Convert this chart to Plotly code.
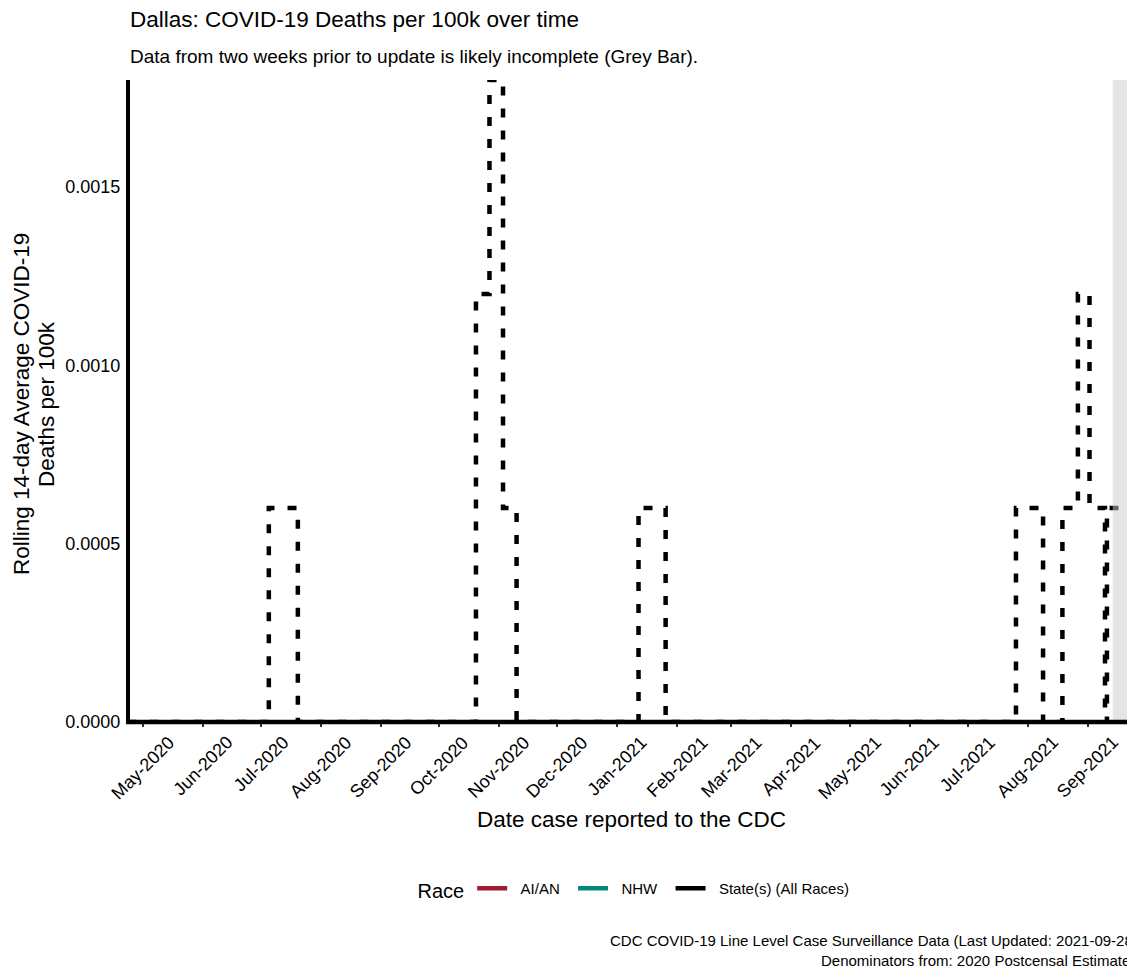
import plotly.graph_objects as go

# ---- data ----
state_dates = ["2020-04-23", "2020-07-05", "2020-07-20", "2020-10-20", "2020-10-27",
               "2020-11-03", "2020-11-10", "2021-01-12", "2021-01-26", "2021-07-26",
               "2021-08-09", "2021-08-19", "2021-08-27", "2021-09-02", "2021-09-10",
               "2021-09-11", "2021-09-24", "2021-09-28"]
state_values = [0, 0.0006, 0, 0.0012, 0.0018,
                0.0006, 0, 0.0006, 0, 0.0006,
                0, 0.0006, 0.0012, 0.0006, 0,
                0.0006, 0, 0]

race_dates = ["2020-04-23", "2021-09-28"]
aian_values = [0, 0]
nhw_values = [0, 0]

tick_dates = ["2020-05-01", "2020-06-01", "2020-07-01", "2020-08-01", "2020-09-01",
              "2020-10-01", "2020-11-01", "2020-12-01", "2021-01-01", "2021-02-01",
              "2021-03-01", "2021-04-01", "2021-05-01", "2021-06-01", "2021-07-01",
              "2021-08-01", "2021-09-01"]
tick_labels = ["May-2020", "Jun-2020", "Jul-2020", "Aug-2020", "Sep-2020", "Oct-2020",
               "Nov-2020", "Dec-2020", "Jan-2021", "Feb-2021", "Mar-2021", "Apr-2021",
               "May-2021", "Jun-2021", "Jul-2021", "Aug-2021", "Sep-2021"]

y_tick_vals = [0, 0.0005, 0.0010, 0.0015]
incomplete_start = "2021-09-14"
incomplete_end = "2021-09-28"

x_range = ["2020-04-23 06:00", "2021-09-25 12:00"]
y_range = [0, 0.0018]

FONT = "Liberation Sans, Arial, sans-serif"
RED = "#9E1B32"
TEAL = "#00897B"
NB = "\u00a0"

fig = go.Figure()

fig.add_trace(go.Scatter(x=race_dates, y=aian_values, mode="lines",
                         line=dict(color=RED, width=1.5), showlegend=False))
fig.add_trace(go.Scatter(x=race_dates, y=nhw_values, mode="lines",
                         line=dict(color=TEAL, width=1.5), showlegend=False))
fig.add_trace(go.Scatter(x=state_dates, y=state_values, mode="lines",
                         line=dict(color="black", width=4.5, dash="9px,13px", shape="hv"),
                         showlegend=False))

# legend keys (solid, as in the reference)
for name, col in [("AI/AN", RED), ("NHW", TEAL), ("State(s) (All Races)", "black")]:
    fig.add_trace(go.Scatter(x=[None], y=[None], mode="lines",
                             name=NB * 2 + name + NB * 2,
                             line=dict(color=col, width=4.5)))

fig.add_shape(type="rect", xref="x", yref="paper", x0=incomplete_start, x1=incomplete_end,
              y0=0, y1=1, fillcolor="#CCCCCC", opacity=0.5, line=dict(width=0), layer="above")
fig.add_shape(type="line", xref="paper", yref="paper", x0=-0.002, x1=1.01, y0=0, y1=0,
              line=dict(color="black", width=4.5), layer="above")
fig.add_shape(type="line", xref="paper", yref="paper", x0=0, x1=0, y0=-0.003, y1=1,
              line=dict(color="black", width=4), layer="above")

# page body has an 8px margin, so the figure is placed at (8, 8) on screen
OFF = 8
L, T, B, R = 128, 80, 722, 1135   # screen pixels of the plot area
FIG_BOTTOM = 966
W = R - L
H = B - T


def px_x(p):
    return (p - L) / W


def px_y(p):
    return (B - p) / H


annotations = [
    dict(text="Dallas: COVID-19 Deaths per 100k over time", x=0, y=px_y(19),
         xanchor="left", yanchor="middle", font=dict(size=22.5, color="black")),
    dict(text="Data from two weeks prior to update is likely incomplete (Grey Bar).",
         x=0, y=px_y(56), xanchor="left", yanchor="middle", font=dict(size=19, color="black")),
    dict(text="Date case reported to the CDC", x=0.5, y=px_y(820), xanchor="center",
         yanchor="middle", font=dict(size=22.5, color="black")),
    dict(text="Rolling 14-day Average COVID-19", x=px_x(21), y=px_y(404),
         xanchor="center", yanchor="middle", textangle=-90, font=dict(size=22.5, color="black")),
    dict(text="Deaths per 100k", x=px_x(46), y=px_y(404),
         xanchor="center", yanchor="middle", textangle=-90, font=dict(size=22.5, color="black")),
    dict(text="CDC COVID-19 Line Level Case Surveillance Data (Last Updated: 2021-09-28)<br>"
              "Denominators from: 2020 Postcensal Estimates",
         x=px_x(1140), y=px_y(950), xanchor="right", yanchor="middle", align="right",
         font=dict(size=15, color="black")),
]
for a in annotations:
    a.update(xref="paper", yref="paper", showarrow=False)

# month labels centred under their ticks, rotated 45 degrees
for d, lab in zip(tick_dates, tick_labels):
    annotations.append(dict(text=lab, x=d, xref="x", y=px_y(730), yref="paper",
                            xanchor="center", yanchor="top", textangle=-45,
                            showarrow=False, font=dict(size=18, color="black")))

fig.update_layout(
    width=R - OFF, height=FIG_BOTTOM - OFF,
    margin=dict(l=L - OFF, r=0, t=T - OFF, b=FIG_BOTTOM - B, pad=0),
    paper_bgcolor="white", plot_bgcolor="white",
    font=dict(family=FONT, color="black"),
    annotations=annotations,
    legend=dict(orientation="h", x=px_x(639), xanchor="center", y=px_y(890), yanchor="middle",
                title=dict(text="Race", font=dict(size=20, color="black")),
                font=dict(size=15, color="black"), itemwidth=30, bgcolor="rgba(0,0,0,0)"),
    xaxis=dict(type="date", range=x_range, tickvals=tick_dates, showticklabels=False,
               ticks="outside", ticklen=4, tickwidth=1.5, tickcolor="#333333",
               showgrid=False, zeroline=False, showline=False),
    yaxis=dict(range=y_range, tickvals=y_tick_vals, tickformat=".4f", ticks="outside",
               ticklen=3, tickcolor="rgba(0,0,0,0)", showgrid=False, zeroline=False,
               showline=False, tickfont=dict(size=18, color="black")),
)

fig.write_html("out.html")
